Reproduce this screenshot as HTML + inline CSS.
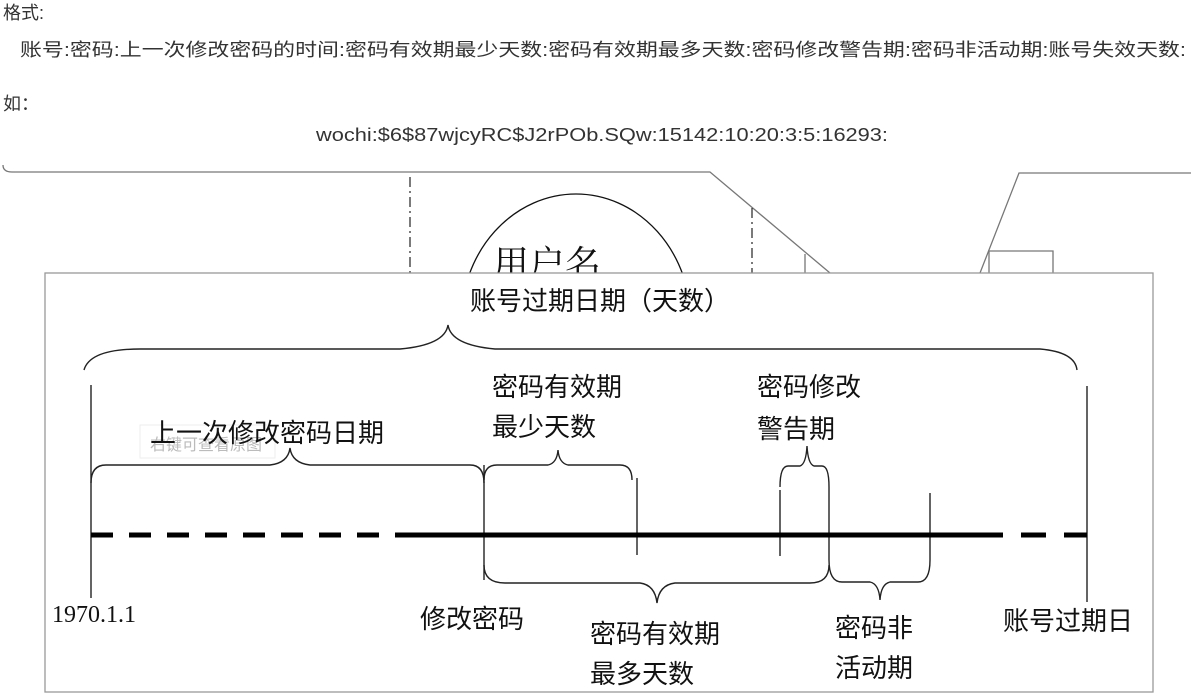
<!DOCTYPE html>
<html><head><meta charset="utf-8"><style>
html,body{margin:0;padding:0;background:#fff;width:1191px;height:696px;overflow:hidden}
svg{display:block}
</style></head><body>
<svg width="1191" height="696" xmlns="http://www.w3.org/2000/svg">
<g fill="#333" font-size="18" font-family="Liberation Sans, Noto Sans CJK SC, sans-serif">
<text x="3" y="19">格式:</text>
<text x="20" y="56" textLength="1166" lengthAdjust="spacingAndGlyphs">账号:密码:上一次修改密码的时间:密码有效期最少天数:密码有效期最多天数:密码修改警告期:密码非活动期:账号失效天数:</text>
<text x="3" y="110">如：</text>
<text x="316" y="141" textLength="572" lengthAdjust="spacingAndGlyphs">wochi:$6$87wjcyRC$J2rPOb.SQw:15142:10:20:3:5:16293:</text>
</g>
<g stroke="#777" stroke-width="1.3" fill="none">
<path d="M3,165 Q3,172 12,172 L710,172 L830,273"/>
<path d="M1191,173 L1019,173 L980,273"/>
<path d="M989,273 L989,251 L1053,251 L1053,273"/>
<path d="M805,254 L805,273"/>
</g>
<g stroke="#222" stroke-width="1.2" stroke-dasharray="10,4,2,4" fill="none">
<path d="M410,177 L410,273"/><path d="M752,208 L752,273"/>
</g>
<ellipse cx="576" cy="322" rx="115" ry="128" stroke="#111" stroke-width="1.3" fill="none"/>
<text x="493" y="276" font-size="36" fill="#111" font-family="Liberation Serif, Noto Serif CJK SC, serif">用户名</text>
<rect x="45" y="273" width="1108" height="419" fill="#fff" stroke="#999" stroke-width="1.3"/>
<rect x="140" y="425" width="135" height="33" fill="#fff" stroke="#eee"/>
<text x="150" y="450" font-size="16" fill="#bbb" font-family="Liberation Sans, Noto Sans CJK SC, sans-serif">右键可查看原图</text>
<g fill="#111" font-size="26" font-family="Liberation Sans, Noto Sans CJK SC, sans-serif">
<text x="470" y="310">账号过期日期（天数）</text>
<text x="492" y="396">密码有效期</text>
<text x="492" y="436">最少天数</text>
<text x="757" y="396">密码修改</text>
<text x="757" y="438">警告期</text>
<text x="150" y="442">上一次修改密码日期</text>
<text x="420" y="628">修改密码</text>
<text x="590" y="643">密码有效期</text>
<text x="590" y="683">最多天数</text>
<text x="835" y="637">密码非</text>
<text x="835" y="677">活动期</text>
<text x="1003" y="630">账号过期日</text>
</g>
<text x="52" y="622" font-size="24" fill="#111" font-family="Liberation Serif, serif">1970.1.1</text>
<g stroke="#222" stroke-width="1.4" fill="none">
<path d="M84,370 Q90,349 140,349 L400,349 Q445,345 448,325 Q451,345 495,349 L1040,349 Q1075,352 1077,370"/>
<path d="M91,483 Q91,465 106,465 L270,465 Q288,463 290,448 Q292,463 310,465 L470,465 Q484,465 484,483"/>
<path d="M484,480 Q484,465 497,465 L548,465 Q557,463 558,450 Q559,463 568,465 L620,465 Q632,465 632,480"/>
<path d="M780,487 Q780,466 788,466 L800,466 Q806,464 807,446 Q808,464 814,466 L822,466 Q829,466 829,487"/>
<path d="M484,565 Q484,583 505,583 L640,583 Q655,585 657,603 Q659,585 675,583 L810,583 Q829,583 829,565"/>
<path d="M829,560 Q829,582 842,582 L870,582 Q879,584 880,600 Q881,584 890,582 L918,582 Q930,582 930,560"/>
</g>
<g stroke="#222" stroke-width="1.4">
<line x1="91" y1="385" x2="91" y2="598"/>
<line x1="484" y1="465" x2="484" y2="580"/>
<line x1="637" y1="478" x2="637" y2="555"/>
<line x1="780" y1="490" x2="780" y2="556"/>
<line x1="829" y1="487" x2="829" y2="560"/>
<line x1="930" y1="493" x2="930" y2="560"/>
<line x1="1087" y1="386" x2="1087" y2="602"/>
</g>
<g stroke="#000" stroke-width="5">
<line x1="91" y1="535" x2="410" y2="535" stroke-dasharray="22,16"/>
<line x1="410" y1="535" x2="978" y2="535"/>
<line x1="978" y1="535" x2="1087" y2="535" stroke-dasharray="25,18"/>
</g>
</svg>
</body></html>
